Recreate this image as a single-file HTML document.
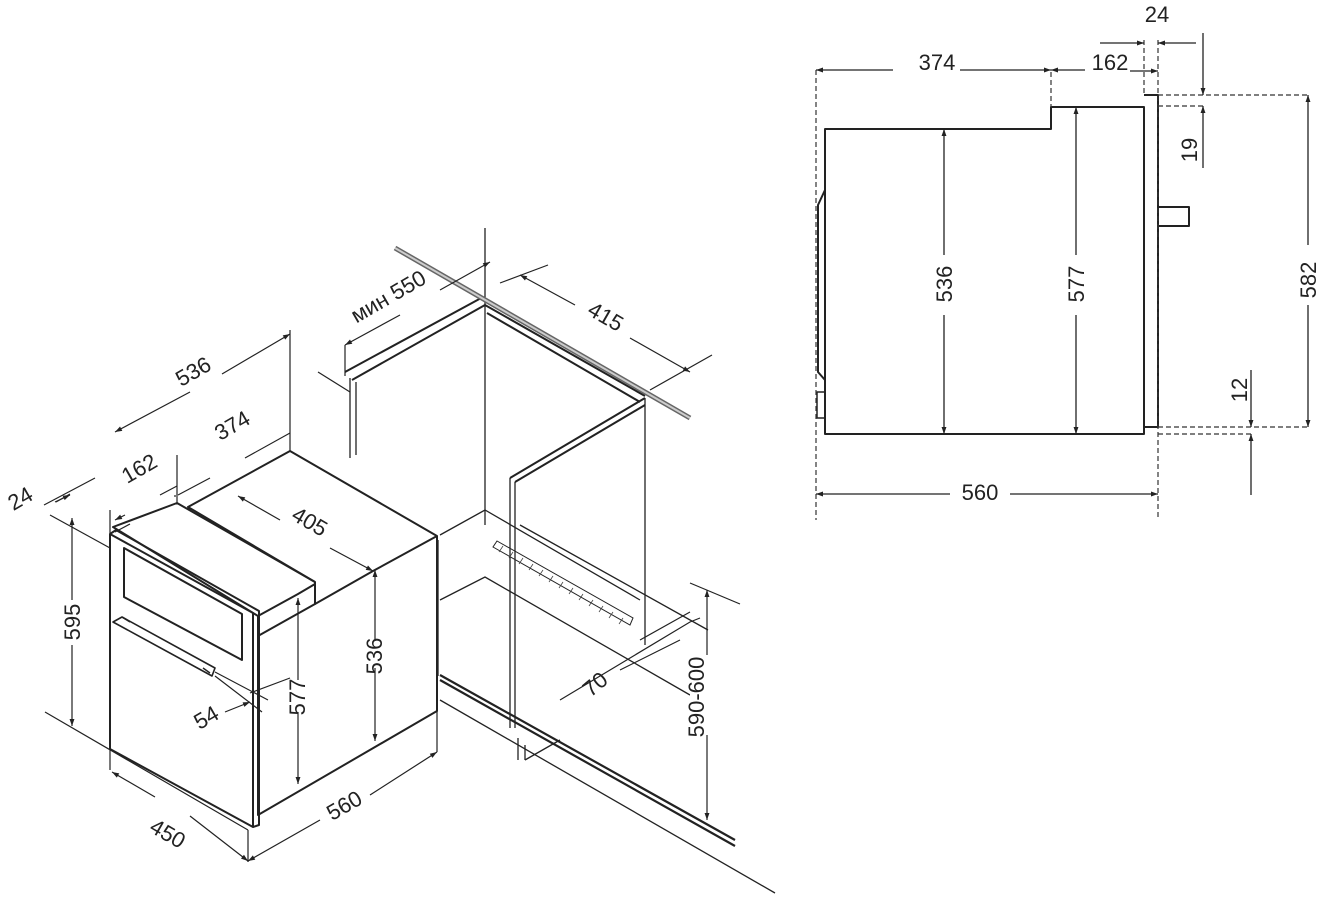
<!DOCTYPE html>
<html><head><meta charset="utf-8"><style>
html,body{margin:0;padding:0;background:#fff;}
svg{display:block;}
text{font-family:"Liberation Sans","DejaVu Sans",sans-serif;font-size:22px;fill:#222;}
</style></head><body>
<svg width="1328" height="898" viewBox="0 0 1328 898" xmlns="http://www.w3.org/2000/svg">
<defs>
<marker id="a" viewBox="0 0 10 10" refX="10" refY="5" markerWidth="9" markerHeight="7" orient="auto-start-reverse" markerUnits="userSpaceOnUse"><path d="M0,1.5 L10,5 L0,8.5z" fill="#222"/></marker>
</defs>
<g fill="none" stroke="#222" stroke-width="2" stroke-linejoin="round">
<!-- ============ SIDE VIEW ============ -->
<path d="M825,129 H1051 V107 H1144 V434 H825 Z"/>
<path d="M1144,95 H1158 V427 H1144"/>
<path d="M1158,207 H1189 V226 H1158"/>
<path d="M825,190 L818,205 V372 L825,380"/>
<path d="M817,392 H825 V418 H817 Z" stroke-width="1.5"/>
</g>
<g fill="none" stroke="#333" stroke-width="1.2" stroke-dasharray="5,3">
<path d="M816,70 V520"/><path d="M1051,72 V107"/><path d="M1144,40 V95"/><path d="M1158,40 V520"/>
<path d="M1158,95 H1310"/><path d="M1158,106 H1205"/><path d="M1158,427 H1310"/><path d="M1158,434 H1252"/>
</g>
<g fill="none" stroke="#222" stroke-width="1.3">
<path d="M816,70 H893 M960,70 H1051" marker-start="url(#a)" marker-end="url(#a)"/>
<path d="M1051,70 H1085 M1130,71 H1158" marker-start="url(#a)" marker-end="url(#a)"/>
<path d="M1100,43 H1144" marker-end="url(#a)"/>
<path d="M1196,43 H1158" marker-end="url(#a)"/>
<path d="M944,129 V255 M944,315 V434" marker-start="url(#a)" marker-end="url(#a)"/>
<path d="M1076,107 V255 M1076,315 V434" marker-start="url(#a)" marker-end="url(#a)"/>
<path d="M1308,95 V245 M1308,305 V427" marker-start="url(#a)" marker-end="url(#a)"/>
<path d="M1203,33 V95" marker-end="url(#a)"/><path d="M1203,168 V106" marker-end="url(#a)"/>
<path d="M1251,370 V427" marker-end="url(#a)"/><path d="M1251,495 V434" marker-end="url(#a)"/>
<path d="M816,494 H950 M1010,494 H1158" marker-start="url(#a)" marker-end="url(#a)"/>
</g>
<text x="937" y="70" text-anchor="middle">374</text>
<text x="1110" y="70" text-anchor="middle">162</text>
<text x="1157" y="22" text-anchor="middle">24</text>
<text x="980" y="500" text-anchor="middle">560</text>
<text transform="translate(952,284) rotate(-90)" text-anchor="middle">536</text>
<text transform="translate(1084,284) rotate(-90)" text-anchor="middle">577</text>
<text transform="translate(1316,280) rotate(-90)" text-anchor="middle">582</text>
<text transform="translate(1197,150) rotate(-90)" text-anchor="middle">19</text>
<text transform="translate(1247,390) rotate(-90)" text-anchor="middle">12</text>

<!-- ============ CABINET ============ -->
<g fill="none" stroke="#222" stroke-width="1.3">
<path d="M485,228 V525"/>
<path d="M350,378 V458 M356,382 V455"/>
<path d="M345,372 L483,297 M352,380 L485,305" stroke-width="2"/>
<path d="M485,305 L645,396 M487,313 L640,402" stroke-width="2"/>
<path d="M645,398 V645"/>
<path d="M510,478 L645,398 M515,482 L645,405" stroke-width="2"/>
<path d="M510,478 V728 M515,482 V728"/>
<path d="M440,535 L485,510 L640,600"/>
<path d="M440,600 L485,577 L690,695"/>
<path d="M440,675 L735,840 M440,680 L735,846" stroke-width="2.2"/>
<path d="M440,700 L775,893"/>
<path d="M518,738 V760 M525,745 V760"/>
<path d="M525,760 L560,740"/>
<path d="M520,525 L708,630"/>
<path d="M493,547 L630,625 L633,618 L497,541 Z" stroke-width="1"/>
<path d="M438,540 V676"/>
</g>
<g stroke="#444" stroke-width="0.8">
<path d="M503,546 l-4,6 M513,552 l-4,6 M523,558 l-4,6 M533,564 l-4,6 M543,570 l-4,6 M553,576 l-4,6 M563,582 l-4,6 M573,588 l-4,6 M583,594 l-4,6 M593,600 l-4,6 M603,606 l-4,6 M613,612 l-4,6 M623,618 l-4,6"/>
</g>
<path d="M395,248 L690,418" stroke="#666" stroke-width="5"/>
<path d="M395,248 L690,418" stroke="#ccc" stroke-width="2"/>
<g fill="none" stroke="#222" stroke-width="1.2">
<path d="M318,372 L350,392"/>
<path d="M345,345 V376"/>
<path d="M345,345 L400,315 M440,290 L490,262" marker-start="url(#a)" marker-end="url(#a)"/>
<path d="M500,283 L548,265"/><path d="M650,390 L712,355"/>
<path d="M520,275 L575,305 M630,338 L690,372" marker-start="url(#a)" marker-end="url(#a)"/>
<path d="M560,700 L690,622 L700,618"/>
<path d="M640,640 L690,612 M620,670 L680,640"/>
<path d="M707,590 V820" marker-start="url(#a)" marker-end="url(#a)"/>
<path d="M690,583 L740,604"/>
</g>
<text transform="translate(392,303) rotate(-30)" text-anchor="middle">мин 550</text>
<text transform="translate(602,323) rotate(30)" text-anchor="middle">415</text>
<text transform="translate(600,690) rotate(-40)" text-anchor="middle">70</text>
<rect x="690" y="655" width="18" height="80" fill="#fff"/>
<text transform="translate(704,697) rotate(-90)" text-anchor="middle">590-600</text>

<!-- ============ OVEN ============ -->
<g fill="#fff" stroke="#222" stroke-width="2" stroke-linejoin="round">
<path d="M188,507 L290,451 L437,536 L437,711 L258,815 L258,616 Z"/>
<path d="M113,527 L177,503 L315,582 L315,604 L258,636 L258,616 Z"/>
<path d="M188,507 L315,582"/>
<path d="M258,616 L298,594 L315,584 L315,604 L373,571 L437,536" fill="none"/>
<path d="M110,534 L253,613 L253,827 L110,749 Z"/>
<path d="M110,534 L116,530 L259,611 L259,825 L253,827" fill="none"/>
<path d="M124,548 L242,614 L242,660 L124,597 Z" fill="none"/>
<path d="M113,622 L122,617 L215,668 L212,676 Z" stroke-width="1.6"/>
<path d="M122,617 L130,622 M203,668 L210,673" fill="none" stroke-width="1.4"/>
</g>
<g fill="none" stroke="#222" stroke-width="1.2">
<path d="M110,534 V510 M177,503 V455 M290,451 V330"/>
<path d="M115,432 L190,392 M222,374 L290,334" marker-start="url(#a)" marker-end="url(#a)"/>
<path d="M115,532 L130,524 M175,495 L175,497 M178,495 L210,478 M245,458 L290,433" />
<path d="M115,520 L125,515 M160,495 L177,486" marker-start="url(#a)"/>
<path d="M44,505 L95,478 M56,502 L70,494"/>
<path d="M55,502 L70,495" marker-end="url(#a)"/>
<path d="M50,515 L110,548"/>
<path d="M72,518 V600 M72,645 V726" marker-start="url(#a)" marker-end="url(#a)"/>
<path d="M45,712 L248,830 M248,830 V862"/>
<path d="M437,711 V752"/>
<path d="M110,749 V770"/>
<path d="M112,772 L155,797 M190,816 L248,861" marker-start="url(#a)" marker-end="url(#a)"/>
<path d="M248,861 L320,820 M370,795 L437,752" marker-start="url(#a)" marker-end="url(#a)"/>
<path d="M238,496 L280,520 M330,548 L373,571" marker-start="url(#a)" marker-end="url(#a)"/>
<path d="M375,570 V641 M375,668 V741" marker-start="url(#a)" marker-end="url(#a)"/>
<path d="M298,598 V680 M298,712 V784" marker-start="url(#a)" marker-end="url(#a)"/>
<path d="M215,672 L268,700 M250,693 L290,678 M215,676 L262,712"/>
<path d="M225,712 L250,702" marker-end="url(#a)"/>
</g>
<text transform="translate(197,378) rotate(-30)" text-anchor="middle">536</text>
<text transform="translate(236,432) rotate(-30)" text-anchor="middle">374</text>
<text transform="translate(143,475) rotate(-30)" text-anchor="middle">162</text>
<text transform="translate(24,505) rotate(-30)" text-anchor="middle">24</text>
<text transform="translate(306,528) rotate(30)" text-anchor="middle">405</text>
<text transform="translate(80,622) rotate(-90)" text-anchor="middle">595</text>
<text transform="translate(382,656) rotate(-90)" text-anchor="middle">536</text>
<text transform="translate(305,697) rotate(-90)" text-anchor="middle">577</text>
<text transform="translate(210,724) rotate(-30)" text-anchor="middle">54</text>
<text transform="translate(164,840) rotate(30)" text-anchor="middle">450</text>
<text transform="translate(348,812) rotate(-30)" text-anchor="middle">560</text>
</svg>
</body></html>
